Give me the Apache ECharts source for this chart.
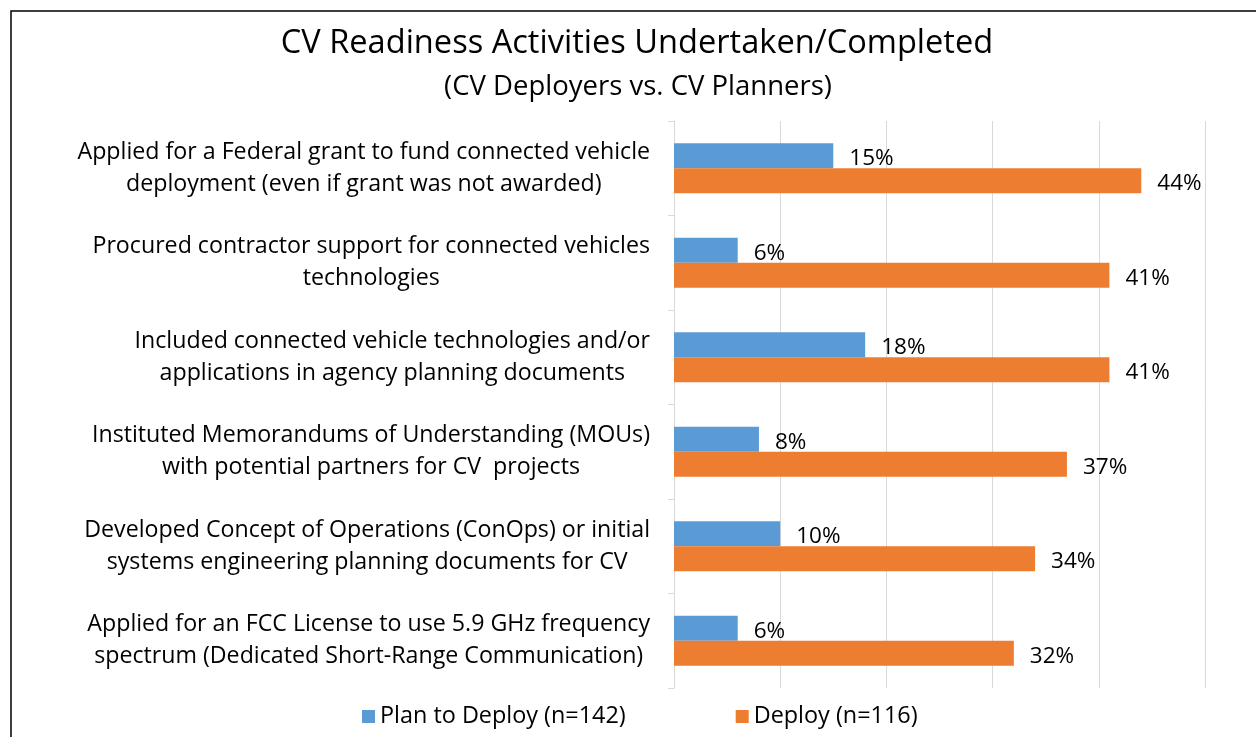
<!DOCTYPE html>
<html>
<head>
<meta charset="utf-8">
<script src="https://cdn.jsdelivr.net/npm/echarts@6/dist/echarts.min.js"></script>
<style>
  html, body { margin: 0; padding: 0; background: #fff; }
  #chart { width: 1256px; height: 737px; }
</style>
</head>
<body>
<div id="chart"></div>
<script>
const categories = [
  "Applied for a Federal grant to fund connected vehicle\ndeployment (even if grant was not awarded)",
  "Procured contractor support for connected vehicles\ntechnologies",
  "Included connected vehicle technologies and/or\napplications in agency planning documents",
  "Instituted Memorandums of Understanding (MOUs)\nwith potential partners for CV  projects",
  "Developed Concept of Operations (ConOps) or initial\nsystems engineering planning documents for CV",
  "Applied for an FCC License to use 5.9 GHz frequency\nspectrum (Dedicated Short-Range Communication)",
];
const planValues = [15, 6, 18, 8, 10, 6];
const deployValues = [44, 41, 41, 37, 34, 32];
const seriesNames = ["Plan to Deploy (n=142)", "Deploy (n=116)"];

const FONT = "Open Sans";
const LABEL_SIZE = 23.2;
const TEXT_COLOR = "#000";

// lines are centred inside a block whose right edge sits near the axis
const ctx = document.createElement("canvas").getContext("2d");
ctx.font = LABEL_SIZE + 'px "' + FONT + '"';
const rich = {};
const labelText = categories.map((c, i) => {
  const lines = c.split("\n");
  const widths = lines.map((l) => ctx.measureText(l).width);
  const maxW = Math.max(...widths);
  return lines
    .map((l, j) => {
      const key = "c" + i + "l" + j;
      rich[key] = {
        padding: [0, (maxW - widths[j]) / 2, 0, 0],
        fontSize: LABEL_SIZE,
        fontFamily: FONT,
        color: TEXT_COLOR,
        lineHeight: 32,
      };
      return "{" + key + "|" + l + "}";
    })
    .join("\n");
});

const barLabel = {
  show: true,
  position: "right",
  distance: 16,
  offset: [0, 3],
  formatter: "{c}%",
  fontFamily: FONT,
  fontSize: 22.5,
  color: TEXT_COLOR,
};

const myChart = echarts.init(document.getElementById("chart"));
myChart.setOption({
  animation: false,
  color: ["#5B9BD5", "#ED7D31"],
  textStyle: { fontFamily: FONT },
  title: [
    {
      text: "CV Readiness Activities Undertaken/Completed",
      left: 632,
      top: 22,
      textAlign: "center",
      textStyle: { fontFamily: FONT, fontSize: 32.6, fontWeight: "normal", color: TEXT_COLOR },
    },
    {
      text: "(CV Deployers vs. CV Planners)",
      left: 633,
      top: 68,
      textAlign: "center",
      textStyle: { fontFamily: FONT, fontSize: 27.5, fontWeight: "normal", color: TEXT_COLOR },
    },
  ],
  graphic: [
    {
      type: "rect",
      shape: { x: 11, y: 11, width: 2000, height: 2000 },
      style: { fill: "none", stroke: "#000", lineWidth: 1.5 },
      silent: true,
    },
  ],
  legend: {
    left: 357,
    top: 700,
    itemWidth: 13,
    itemHeight: 13,
    itemGap: 110,
    icon: "rect",
    textStyle: { fontFamily: FONT, fontSize: 23.4, color: TEXT_COLOR },
    data: seriesNames,
  },
  grid: {
    left: 674,
    right: 51,
    top: 121,
    bottom: 49,
    containLabel: false,
  },
  xAxis: {
    type: "value",
    min: 0,
    max: 50,
    interval: 10,
    axisLabel: { show: false },
    axisLine: { show: false },
    axisTick: { show: false },
    splitLine: { lineStyle: { color: "#d9d9d9", width: 1 } },
  },
  yAxis: {
    type: "category",
    inverse: true,
    data: categories,
    axisLine: { show: true, lineStyle: { color: "#d9d9d9" } },
    axisTick: { show: true, length: 6, lineStyle: { color: "#d9d9d9" } },
    axisLabel: {
      interval: 0,
      align: "right",
      margin: 24,
      formatter: (v, idx) => labelText[idx],
      rich: rich,
    },
  },
  series: [
    {
      name: seriesNames[0],
      type: "bar",
      barWidth: 25,
      barGap: "0%",
      data: planValues,
      label: barLabel,
    },
    {
      name: seriesNames[1],
      type: "bar",
      barWidth: 25,
      barGap: "0%",
      data: deployValues,
      label: barLabel,
    },
  ],
});
</script>
</body>
</html>
